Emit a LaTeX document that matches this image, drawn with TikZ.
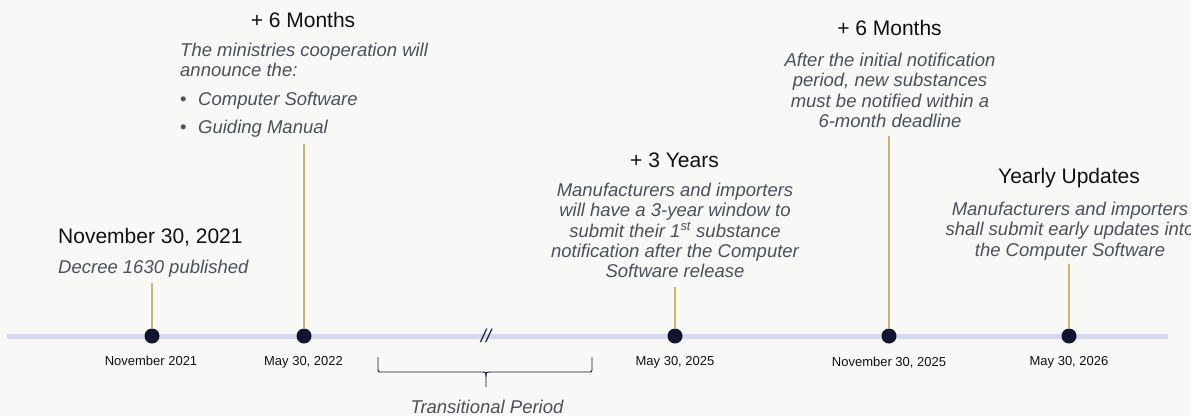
\documentclass[tikz,border=0pt]{standalone}
\usepackage{fontspec}
\usetikzlibrary{calc}
\setmainfont{Liberation Sans}
\definecolor{bg}{HTML}{F8F9F7}
\definecolor{tline}{HTML}{D5D8EF}
\definecolor{dotc}{HTML}{12152F}
\definecolor{stemc}{HTML}{C9B36B}
\definecolor{descc}{HTML}{4A505C}
\definecolor{ttlc}{HTML}{111111}
\begin{document}
\begin{tikzpicture}[x=1pt,y=-1pt,
  ttl/.style={font=\fontsize{21}{25}\selectfont, text=ttlc, inner sep=0pt},
  descr/.style={font=\fontsize{18.5}{20.3}\selectfont\itshape, text=descc, inner sep=0pt},
  datelbl/.style={font=\fontsize{13}{15}\selectfont, text=ttlc, inner sep=0pt},
  ev/.style={circle, fill=dotc, minimum size=15pt, inner sep=0pt},
  stemline/.style={draw=stemc, line width=1.6pt},
  tl/.style={draw=tline, line width=5pt},
  bracel/.style={draw=dotc, line width=0.9pt}]
\clip (0,0) rectangle (1191,416);
\fill[bg] (0,0) rectangle (1191,416);
% timeline
\coordinate (tl0) at (7,336);
\coordinate (tl1) at (1168,336);
\draw[tl] (tl0) -- (tl1);
% events
\node[ev] (e1) at (152,336) {};
\node[ev] (e2) at (304,336) {};
\node[ev] (e3) at (675,336) {};
\node[ev] (e4) at (889,336) {};
\node[ev] (e5) at (1069,336) {};
% stems
\coordinate (s1) at (152,283);
\coordinate (s2) at (304,144);
\coordinate (s3) at (675,287);
\coordinate (s4) at (889,136);
\coordinate (s5) at (1069,264);
\draw[stemline] (e1) -- (s1);
\draw[stemline] (e2) -- (s2);
\draw[stemline] (e3) -- (s3);
\draw[stemline] (e4) -- (s4);
\draw[stemline] (e5) -- (s5);
% date labels
\node[datelbl, anchor=north] (l1) at (151,355.5) {November 2021};
\node[datelbl, anchor=north] (l2) at (303.5,356.5) {May 30, 2022};
\node[datelbl, anchor=north] (l3) at (675,356.5) {May 30, 2025};
\node[datelbl, anchor=north] (l4) at (889,356.5) {November 30, 2025};
\node[datelbl, anchor=north] (l5) at (1069,356.5) {May 30, 2026};
% event 1
\node[ttl, anchor=north west] (t1) at (58,228) {November 30, 2021};
\node[descr, anchor=north west] (d1) at (58,260) {Decree 1630 published};
% event 2
\node[ttl, anchor=north] (t2) at (303,12.5) {+ 6 Months};
\node[descr, anchor=north west, align=left] (d2) at (180,43) {The ministries cooperation will\\announce the:\\[8pt]\makebox[18pt][l]{\upshape\textbullet}Computer Software\\[8pt]\makebox[18pt][l]{\upshape\textbullet}Guiding Manual};
% event 3
\node[ttl, anchor=north] (t3) at (674.5,153) {+ 3 Years};
\node[descr, anchor=north, align=center] (d3) at (675,183) {Manufacturers and importers\\will have a 3-year window to\\submit their 1\textsuperscript{st} substance\\notification after the Computer\\Software release};
% event 4
\node[ttl, anchor=north] (t4) at (889.5,20) {+ 6 Months};
\node[descr, anchor=north, align=center] (d4) at (890,53) {After the initial notification\\period, new substances\\must be notified within a\\6-month deadline};
% event 5
\node[ttl, anchor=north] (t5) at (1069,168) {Yearly Updates};
\node[descr, anchor=north, align=center] (d5) at (1070,202) {Manufacturers and importers\\shall submit early updates into\\the Computer Software};
% break mark
\node[descr, text=dotc] (brk) at (486,336) {//};
% brace
\coordinate (bl) at (378,357);
\coordinate (br) at (592,357);
\coordinate (bt) at (486,387);
\draw[bracel] (bl) -- ++(0,11) .. controls +(0,4) .. ++(4,4) -- ($(bt)+(-5,-15)$) .. controls +(5,0) .. ++(5,5) -- (bt);
\draw[bracel] (br) -- ++(0,11) .. controls +(0,4) .. ++(-4,4) -- ($(bt)+(5,-15)$) .. controls +(-5,0) .. ++(-5,5);
\node[descr, anchor=north] (tp) at (487,400) {Transitional Period};
\end{tikzpicture}
\end{document}
